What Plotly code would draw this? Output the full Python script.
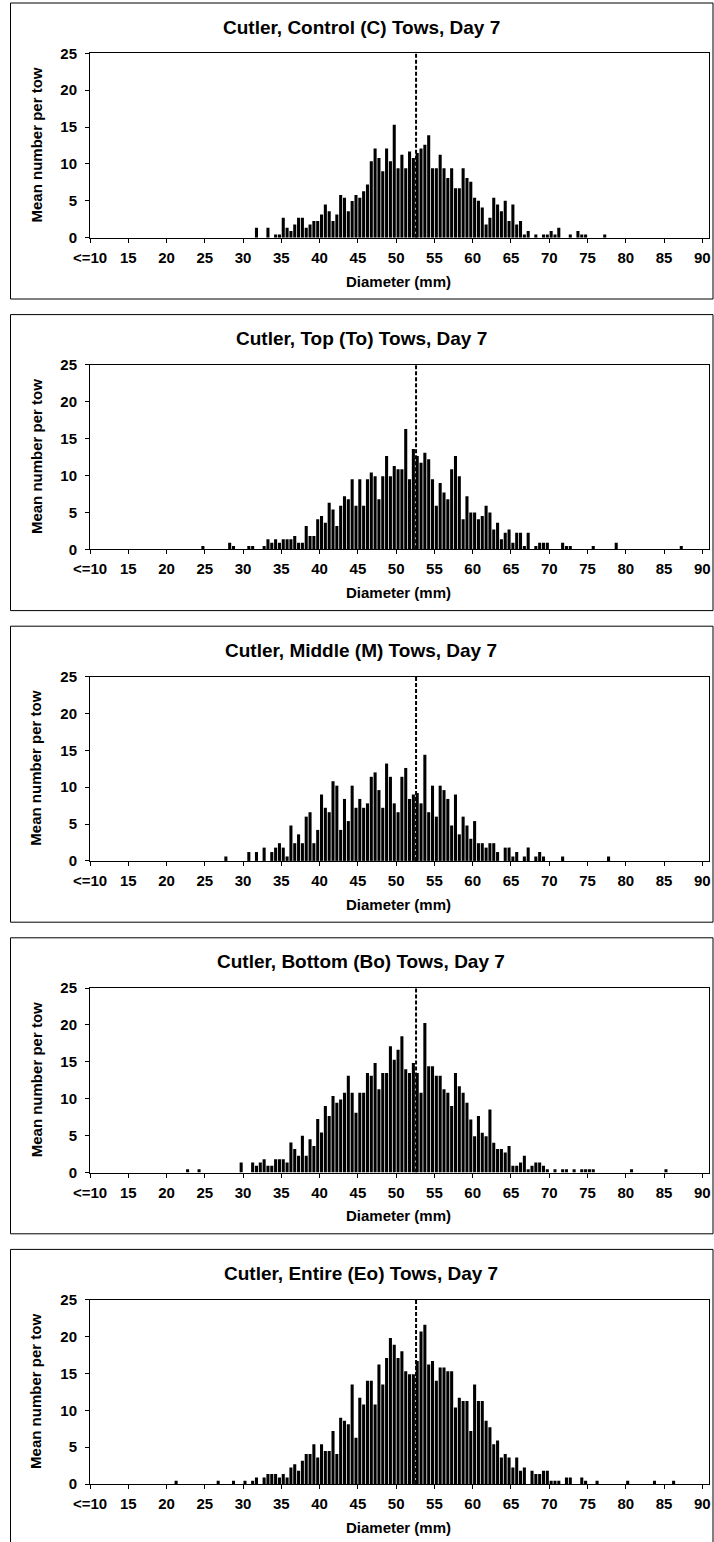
import plotly.graph_objects as go

# ---------------- data ----------------
panel_titles = [
    "Cutler, Control (C) Tows, Day 7",
    "Cutler, Top (To) Tows, Day 7",
    "Cutler, Middle (M) Tows, Day 7",
    "Cutler, Bottom (Bo) Tows, Day 7",
    "Cutler, Entire (Eo) Tows, Day 7",
]
x_axis_title = "Diameter (mm)"
y_axis_title = "Mean number per tow"
x_tick_vals = [10, 15, 20, 25, 30, 35, 40, 45, 50, 55, 60, 65, 70, 75, 80, 85, 90]
x_tick_text = ["<=10", "15", "20", "25", "30", "35", "40", "45", "50", "55",
               "60", "65", "70", "75", "80", "85", "90"]
y_tick_vals = [0, 5, 10, 15, 20, 25]
size_limit = 52.6

control_diam = [31.5, 33, 34, 34.5,
                35, 35.5, 36, 36.5, 37, 37.5, 38, 38.5, 39, 39.5, 40, 40.5, 41, 41.5, 42, 42.5,
                43, 43.5, 44, 44.5, 45, 45.5, 46, 46.5, 47, 47.5, 48, 48.5, 49, 49.5, 50, 50.5,
                51, 51.5, 52, 52.5, 53, 53.5, 54, 54.5, 55, 55.5, 56, 56.5, 57, 57.5, 58, 58.5,
                59, 59.5, 60, 60.5, 61, 61.5, 62, 62.5, 63, 63.5, 64, 64.5, 65, 65.5, 66, 66.5, 67,
                68, 69, 69.5, 70, 70.5, 71, 72.5, 73.5, 74, 74.5, 77]
control_mean = [1.36, 1.36, 0.45, 0.45,
                2.7, 1.36, 0.9, 1.8, 2.7, 2.7, 1.36, 1.8, 2.26, 2.26, 3.16, 4.5, 3.6, 2.26, 3.16, 5.8,
                5.4, 3.6, 4.97, 5.8, 5.4, 6.3, 7.2, 10.35, 12.1, 10.8, 9.0, 12.1, 10.35, 15.3, 9.4, 11.25,
                9.4, 11.7, 10.8, 11.5, 12.1, 12.6, 13.9, 9.4, 9.4, 11.25, 9.4, 8.1, 9.4, 6.7, 6.7, 9.4,
                8.1, 7.6, 5.4, 5.0, 4.1, 1.8, 2.7, 5.4, 4.5, 3.6, 5.0, 2.26, 4.5, 1.8, 2.26, 0.45, 0.9,
                0.45, 0.45, 0.45, 0.9, 0.45, 1.36, 0.45, 0.9, 0.45, 0.45, 0.45]

top_diam = [24.5, 28, 28.5, 30.5, 31, 32.5,
            33, 33.5, 34, 34.5, 35, 35.5, 36, 36.5, 37, 37.5, 38, 38.5, 39, 39.5, 40, 40.5,
            41, 41.5, 42, 42.5, 43, 43.5, 44, 44.5, 45, 45.5, 46, 46.5, 47, 47.5, 48, 48.5,
            49, 49.5, 50, 50.5, 51, 51.5, 52, 52.5, 53, 53.5, 54, 54.5, 55, 55.5, 56, 56.5,
            57, 57.5, 58, 58.5, 59, 59.5, 60, 60.5, 61, 61.5, 62, 62.5, 63, 63.5, 64, 64.5,
            65, 65.5, 66, 66.5, 67,
            68, 68.5, 69, 69.5, 71.5, 72, 72.5, 75.5, 78.5, 87]
top_mean = [0.45, 0.9, 0.45, 0.45, 0.45, 0.45,
            1.36, 0.9, 1.36, 0.9, 1.36, 1.36, 1.36, 1.8, 0.9, 0.9, 3.16, 1.8, 1.8, 4.07, 4.5, 3.6,
            6.3, 5.4, 3.16, 5.9, 7.2, 6.8, 9.5, 5.9, 9.5, 5.9, 9.5, 10.4, 9.9, 6.8, 9.9, 12.65,
            9.9, 11.3, 10.85, 10.85, 16.3, 9.5, 13.6, 12.65, 11.75, 13.1, 12.2, 9.5, 5.9, 9.0, 7.7, 6.8,
            10.85, 12.65, 9.9, 4.07, 7.2, 5.0, 5.0, 4.07, 4.5, 5.9, 5.0, 2.7, 3.6, 1.36, 2.26, 2.7,
            0.9, 2.26, 2.26, 0.45, 2.26,
            0.45, 0.9, 0.9, 0.9, 0.9, 0.45, 0.45, 0.45, 0.9, 0.45]

middle_diam = [27.5, 30.5, 31.5, 32.5, 33.5,
               34, 34.5, 35, 35.5, 36, 36.5, 37, 37.5, 38, 38.5, 39, 39.5, 40, 40.5, 41, 41.5,
               42, 42.5, 43, 43.5, 44, 44.5, 45, 45.5, 46, 46.5, 47, 47.5, 48, 48.5, 49, 49.5,
               50, 50.5, 51, 51.5, 52, 52.5, 53, 53.5, 54, 54.5, 55, 55.5, 56, 56.5, 57, 57.5,
               58, 58.5, 59, 59.5, 60, 60.5, 61, 61.5, 62, 62.5, 63,
               64, 64.5, 65, 65.5, 66.5, 67, 68, 68.5, 69, 71.5, 77.5]
middle_mean = [0.6, 1.2, 1.2, 1.8, 1.2,
               1.8, 2.4, 1.8, 0.6, 4.8, 2.4, 3.6, 2.4, 6.0, 6.6, 2.4, 4.2, 9.0, 7.2, 6.6, 10.8,
               10.2, 4.2, 8.4, 5.4, 10.2, 7.2, 8.4, 7.2, 7.8, 11.4, 12.0, 9.6, 7.2, 13.2, 11.4, 7.8,
               6.6, 11.4, 12.6, 8.4, 9.0, 9.2, 7.8, 14.4, 6.6, 10.2, 6.0, 10.2, 9.6, 8.4, 4.8, 9.0,
               3.6, 6.0, 4.8, 3.0, 5.4, 2.4, 2.4, 1.8, 2.4, 2.4, 1.2,
               1.8, 1.8, 0.6, 1.2, 0.6, 1.8, 0.6, 1.2, 0.6, 0.6, 0.6]

bottom_diam = [22.5, 24, 29.5,
               31, 31.5, 32, 32.5, 33, 33.5, 34, 34.5, 35, 35.5,
               36, 36.5, 37, 37.5, 38, 38.5, 39, 39.5,
               40, 40.5, 41, 41.5, 42, 42.5, 43, 43.5,
               44, 44.5, 45, 45.5, 46, 46.5, 47, 47.5,
               48, 48.5, 49, 49.5, 50, 50.5, 51, 51.5,
               52, 52.5, 53, 53.5, 54, 54.5, 55, 55.5,
               56, 56.5, 57, 57.5, 58, 58.5, 59, 59.5,
               60, 60.5, 61, 61.5, 62, 62.5, 63, 63.5,
               64, 64.5, 65, 65.5, 66, 66.5, 67, 67.5,
               68, 68.5, 69, 69.5,
               70.5, 71.5, 72, 73, 74, 74.5, 75, 75.5, 80.5, 85]
bottom_mean = [0.45, 0.45, 1.36,
               1.36, 0.9, 1.36, 1.8, 0.9, 0.9, 1.8, 1.8, 1.8, 1.36,
               4.07, 3.17, 2.26, 4.98, 2.26, 4.52, 3.6, 7.24,
               5.43, 9.0, 7.65, 10.36, 9.46, 9.9, 10.8, 13.1,
               10.8, 8.1, 10.8, 10.8, 13.5, 13.1, 14.84, 11.27,
               13.5, 13.5, 17.1, 15.3, 16.65, 18.46, 14.0, 13.5,
               14.84, 13.5, 10.8, 20.27, 14.4, 14.4, 13.1, 13.1,
               11.27, 10.8, 9.0, 13.5, 11.7, 10.8, 9.46, 7.2,
               4.93, 7.65, 5.38, 4.93, 8.55, 4.03, 3.17, 3.17,
               2.7, 3.6, 0.9, 0.9, 1.36, 2.26, 0.45, 0.9,
               1.36, 1.36, 0.9, 0.45,
               0.45, 0.45, 0.45, 0.45, 0.45, 0.45, 0.45, 0.45, 0.45, 0.45]

entire_diam = [21, 26.5, 28.5, 30, 31, 31.5, 32.5,
               33, 33.5, 34, 34.5, 35, 35.5, 36, 36.5, 37, 37.5, 38, 38.5, 39, 39.5,
               40, 40.5, 41, 41.5, 42, 42.5, 43, 43.5, 44, 44.5, 45, 45.5, 46, 46.5,
               47, 47.5, 48, 48.5, 49, 49.5, 50, 50.5, 51, 51.5, 52, 52.5, 53, 53.5,
               54, 54.5, 55, 55.5, 56, 56.5, 57, 57.5, 58, 58.5, 59, 59.5, 60, 60.5,
               61, 61.5, 62, 62.5, 63, 63.5, 64, 64.5, 65, 65.5, 66, 66.5,
               67.5, 68, 68.5, 69, 69.5, 70, 70.5, 71, 72, 72.5, 74, 74.5, 76, 80, 83.5, 86]
entire_mean = [0.45, 0.45, 0.45, 0.45, 0.45, 0.9, 0.9,
               1.36, 1.36, 1.36, 0.9, 1.36, 0.9, 2.26, 2.7, 1.8, 3.17, 4.07, 4.07, 5.4, 3.6,
               5.4, 4.5, 4.5, 7.2, 4.07, 9.0, 8.6, 8.1, 13.5, 6.3, 11.7, 10.8, 14.0, 14.0,
               10.8, 16.2, 13.5, 17.1, 19.8, 18.9, 17.1, 18.0, 15.3, 14.9, 14.9, 16.7, 20.7, 21.6,
               16.2, 16.7, 14.0, 15.8, 15.8, 15.3, 15.3, 10.4, 11.7, 11.25, 11.25, 7.2, 13.5, 11.25,
               11.25, 8.6, 7.7, 5.4, 5.9, 3.6, 4.07, 3.6, 2.26, 3.6, 1.8, 2.26,
               1.8, 1.36, 1.36, 1.8, 1.8, 0.45, 0.45, 0.45, 0.9, 0.9, 0.9, 0.45, 0.45, 0.45, 0.45, 0.45]

panels = [
    (control_diam, control_mean),
    (top_diam, top_mean),
    (middle_diam, middle_mean),
    (bottom_diam, bottom_mean),
    (entire_diam, entire_mean),
]
for d, m in panels:
    assert len(d) == len(m), (len(d), len(m))

# ---------------- layout geometry (pixels) ----------------
W, H = 714, 1542
PANEL_STEP = 311.6
PLOT_L, PLOT_R = 90.0, 709.3
PLOT_T, PLOT_B = 53.3, 237.7
PX_PER_MM = 7.654
X_MIN = 10
X_MAX = X_MIN + (PLOT_R - PLOT_L) / PX_PER_MM
BOX_L, BOX_R, BOX_T, BOX_B = 10.5, 713.0, 3.0, 299.0

FONT = "Liberation Sans, Arial, Helvetica, sans-serif"


def fx(px):
    return px / W


def fy(py):
    return 1 - py / H


fig = go.Figure()
shapes = []
annotations = []
layout_axes = {}

for k, (diam, mean) in enumerate(panels):
    s = "" if k == 0 else str(k + 1)
    off = PANEL_STEP * k
    fig.add_trace(go.Bar(
        x=diam, y=mean, width=0.4, offset=0.05,
        marker=dict(color="black", line=dict(width=0)),
        xaxis="x" + s, yaxis="y" + s, showlegend=False,
    ))
    layout_axes["xaxis" + s] = dict(
        domain=[fx(PLOT_L), fx(PLOT_R)], range=[X_MIN, X_MAX], anchor="y" + s,
        tickmode="array", tickvals=x_tick_vals, ticktext=x_tick_text,
        ticks="outside", ticklen=4, tickwidth=1, tickcolor="black",
        showline=True, linecolor="black", linewidth=1, mirror=True,
        showgrid=False, zeroline=False, automargin=False, ticklabelstandoff=2,
        tickfont=dict(family=FONT, size=15, color="black", weight="bold"),
    )
    layout_axes["yaxis" + s] = dict(
        domain=[fy(PLOT_B + off), fy(PLOT_T + off)], range=[0, 25], anchor="x" + s,
        tickmode="array", tickvals=y_tick_vals,
        ticks="outside", ticklen=4, tickwidth=1, tickcolor="black",
        showline=True, linecolor="black", linewidth=1, mirror=True,
        showgrid=False, zeroline=False, ticklabelstandoff=5, automargin=False,
        tickfont=dict(family=FONT, size=15, color="black", weight="bold"),
    )
    # panel frame
    shapes.append(dict(type="rect", xref="paper", yref="paper",
                       x0=fx(BOX_L), x1=fx(BOX_R), y0=fy(BOX_B + off), y1=fy(BOX_T + off),
                       line=dict(color="black", width=1), fillcolor="rgba(0,0,0,0)", layer="below"))
    # size limit dashed line
    shapes.append(dict(type="line", xref="x" + s, yref="y" + s,
                       x0=size_limit, x1=size_limit, y0=0, y1=25,
                       line=dict(color="black", width=2, dash="4px,2px")))
    annotations.append(dict(text=panel_titles[k], xref="paper", yref="paper",
                            x=fx(361), y=fy(27 + off), xanchor="center", yanchor="middle",
                            showarrow=False,
                            font=dict(family=FONT, size=19, color="black", weight="bold")))
    annotations.append(dict(text=y_axis_title, xref="paper", yref="paper",
                            x=fx(36), y=fy((PLOT_T + PLOT_B) / 2 + off), textangle=-90,
                            xanchor="center", yanchor="middle", showarrow=False,
                            font=dict(family=FONT, size=15, color="black", weight="bold")))
    annotations.append(dict(text=x_axis_title, xref="paper", yref="paper",
                            x=fx(398), y=fy(281 + off), xanchor="center", yanchor="middle",
                            showarrow=False,
                            font=dict(family=FONT, size=15, color="black", weight="bold")))

fig.update_layout(
    template="none",
    width=W, height=H, margin=dict(l=0, r=0, t=0, b=0, pad=0, autoexpand=False),
    paper_bgcolor="white", plot_bgcolor="white",
    shapes=shapes, annotations=annotations, showlegend=False,
    **layout_axes,
)

fig.write_html(
    "out.html",
    config={"displayModeBar": False},
    post_script="document.body.style.margin='0';document.body.style.overflow='hidden';",
)
